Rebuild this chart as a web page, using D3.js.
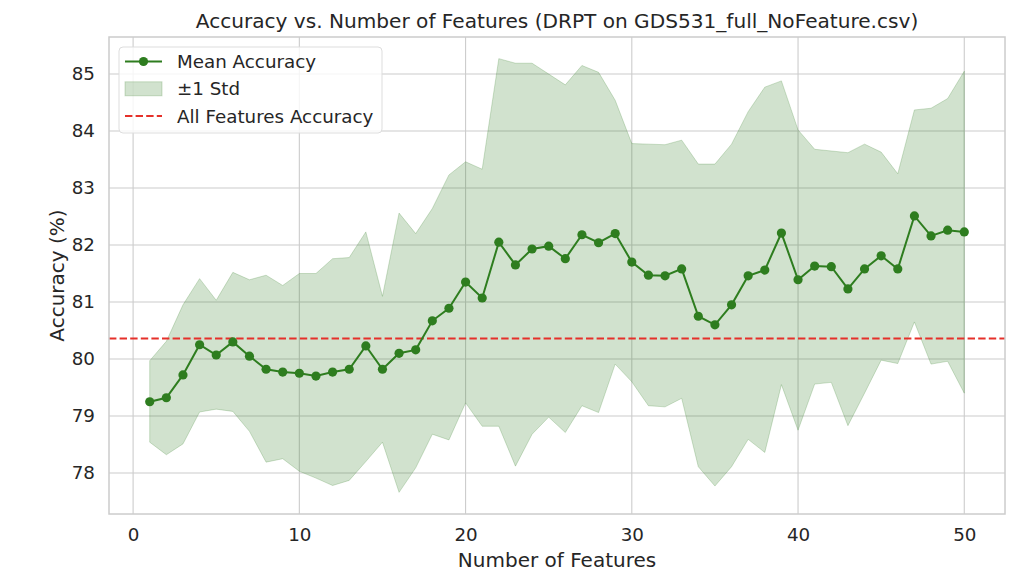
<!DOCTYPE html>
<html>
<head>
<meta charset="utf-8">
<script src="https://cdn.jsdelivr.net/npm/d3@7"></script>
<style>
  body { margin: 0; background: #fff; }
  text { font-family: "DejaVu Sans", sans-serif; fill: #262626; }
</style>
</head>
<body>
<div id="chart"></div>
<script>
// values
const features = d3.range(1, 51);
const meanAcc = [
  79.25, 79.32, 79.72, 80.25, 80.07, 80.30, 80.05, 79.82, 79.77, 79.75,
  79.70, 79.77, 79.82, 80.23, 79.82, 80.10, 80.16, 80.67, 80.89, 81.35,
  81.07, 82.05, 81.65, 81.93, 81.98, 81.76, 82.18, 82.04, 82.20, 81.70,
  81.47, 81.46, 81.58, 80.75, 80.60, 80.95, 81.46, 81.56, 82.21, 81.39,
  81.63, 81.62, 81.23, 81.58, 81.81, 81.58, 82.51, 82.16, 82.26, 82.23
];
const upperAcc = [
  79.97, 80.31, 80.95, 81.41, 81.03, 81.52, 81.39, 81.47, 81.29, 81.50,
  81.50, 81.76, 81.78, 82.23, 81.10, 82.56, 82.20, 82.64, 83.23, 83.46,
  83.33, 85.27, 85.19, 85.19, 85.00, 84.81, 85.15, 85.03, 84.54, 83.78,
  83.77, 83.76, 83.84, 83.42, 83.42, 83.77, 84.34, 84.77, 84.88, 84.02,
  83.68, 83.65, 83.62, 83.77, 83.63, 83.25, 84.37, 84.40, 84.57, 85.05
];
const lowerAcc = [
  78.54, 78.32, 78.51, 79.07, 79.12, 79.08, 78.73, 78.19, 78.25, 78.03,
  77.91, 77.78, 77.87, 78.20, 78.54, 77.66, 78.09, 78.68, 78.58, 79.23,
  78.82, 78.82, 78.12, 78.68, 78.98, 78.71, 79.18, 79.06, 79.91, 79.60,
  79.18, 79.16, 79.31, 78.11, 77.77, 78.11, 78.59, 78.36, 79.55, 78.75,
  79.56, 79.59, 78.83, 79.40, 79.98, 79.92, 80.65, 79.91, 79.96, 79.40
];
const allFeaturesAcc = 80.36;
const xTicks = [0, 10, 20, 30, 40, 50];
const yTicks = [78, 79, 80, 81, 82, 83, 84, 85];

const W = 1028, H = 582;
const margin = { top: 37, right: 23, bottom: 68, left: 109 };
const green = '#2e7d1f';
const red = '#e5302a';
const gridColor = '#cccccc';

const svg = d3.select('#chart').append('svg')
  .attr('width', W).attr('height', H);

const x = d3.scaleLinear().domain([-1.45, 52.45])
  .range([margin.left, W - margin.right]);
const y = d3.scaleLinear().domain([77.28, 85.65])
  .range([H - margin.bottom, margin.top]);

// grid
svg.append('g').selectAll('line').data(xTicks).join('line')
  .attr('x1', d => x(d)).attr('x2', d => x(d))
  .attr('y1', margin.top).attr('y2', H - margin.bottom)
  .attr('stroke', gridColor).attr('stroke-width', 1.1);
svg.append('g').selectAll('line').data(yTicks).join('line')
  .attr('y1', d => y(d)).attr('y2', d => y(d))
  .attr('x1', margin.left).attr('x2', W - margin.right)
  .attr('stroke', gridColor).attr('stroke-width', 1.1);

// axes (tick labels only)
const xAxis = svg.append('g')
  .attr('transform', `translate(0,${H - margin.bottom})`)
  .call(d3.axisBottom(x).tickValues(xTicks).tickSize(0).tickPadding(14));
const yAxis = svg.append('g')
  .attr('transform', `translate(${margin.left},0)`)
  .call(d3.axisLeft(y).tickValues(yTicks).tickSize(0).tickPadding(14));
[xAxis, yAxis].forEach(g => {
  g.select('.domain').remove();
  g.selectAll('text').attr('font-size', 18.3).attr('fill', '#262626')
    .style('font-family', '"DejaVu Sans", sans-serif');
});

// ±1 std band
const band = d3.area()
  .x((d, i) => x(features[i]))
  .y0((d, i) => y(lowerAcc[i]))
  .y1((d, i) => y(upperAcc[i]));
svg.append('path').datum(meanAcc)
  .attr('d', band)
  .attr('fill', green).attr('fill-opacity', 0.22)
  .attr('stroke', green).attr('stroke-opacity', 0.22).attr('stroke-width', 1);

// all features reference line
svg.append('line')
  .attr('x1', margin.left).attr('x2', W - margin.right)
  .attr('y1', y(allFeaturesAcc)).attr('y2', y(allFeaturesAcc))
  .attr('stroke', red).attr('stroke-width', 2)
  .attr('stroke-dasharray', '7.4,3.2');

// mean line + markers
const line = d3.line()
  .x((d, i) => x(features[i]))
  .y(d => y(d));
svg.append('path').datum(meanAcc)
  .attr('d', line)
  .attr('fill', 'none').attr('stroke', green).attr('stroke-width', 2);
svg.append('g').selectAll('circle').data(meanAcc).join('circle')
  .attr('cx', (d, i) => x(features[i]))
  .attr('cy', d => y(d))
  .attr('r', 4.6)
  .attr('fill', green);

// frame
svg.append('rect')
  .attr('x', margin.left).attr('y', margin.top)
  .attr('width', W - margin.left - margin.right)
  .attr('height', H - margin.top - margin.bottom)
  .attr('fill', 'none').attr('stroke', gridColor).attr('stroke-width', 1.5);

// titles
svg.append('text')
  .attr('x', (margin.left + W - margin.right) / 2).attr('y', 28)
  .attr('text-anchor', 'middle').attr('font-size', 20.1)
  .text('Accuracy vs. Number of Features (DRPT on GDS531_full_NoFeature.csv)');
svg.append('text')
  .attr('x', (margin.left + W - margin.right) / 2).attr('y', 567)
  .attr('text-anchor', 'middle').attr('font-size', 20)
  .text('Number of Features');
svg.append('text')
  .attr('transform', `translate(63.5,${(margin.top + H - margin.bottom) / 2}) rotate(-90)`)
  .attr('text-anchor', 'middle').attr('font-size', 20)
  .text('Accuracy (%)');

// legend
const legend = svg.append('g').attr('transform', 'translate(119,47)');
legend.append('rect')
  .attr('width', 263).attr('height', 86).attr('rx', 4)
  .attr('fill', '#fff').attr('fill-opacity', 0.8)
  .attr('stroke', '#dddddd').attr('stroke-width', 1);
const rows = [
  { label: 'Mean Accuracy', kind: 'line' },
  { label: '±1 Std', kind: 'band' },
  { label: 'All Features Accuracy', kind: 'dash' }
];
const row = legend.selectAll('g').data(rows).join('g')
  .attr('transform', (d, i) => `translate(0,${14.5 + i * 27.3})`);
row.each(function (d) {
  const g = d3.select(this);
  if (d.kind === 'line') {
    g.append('line').attr('x1', 6).attr('x2', 43)
      .attr('stroke', green).attr('stroke-width', 2);
    g.append('circle').attr('cx', 24.5).attr('r', 4.6).attr('fill', green);
  } else if (d.kind === 'band') {
    g.append('rect').attr('x', 6).attr('y', -7).attr('width', 37).attr('height', 14)
      .attr('fill', green).attr('fill-opacity', 0.22)
      .attr('stroke', green).attr('stroke-opacity', 0.22);
  } else {
    g.append('line').attr('x1', 6).attr('x2', 43)
      .attr('stroke', red).attr('stroke-width', 2)
      .attr('stroke-dasharray', '7.4,3.2');
  }
  g.append('text').attr('x', 58).attr('dy', '0.35em')
    .attr('font-size', 18.3).text(d.label);
});
</script>
</body>
</html>
